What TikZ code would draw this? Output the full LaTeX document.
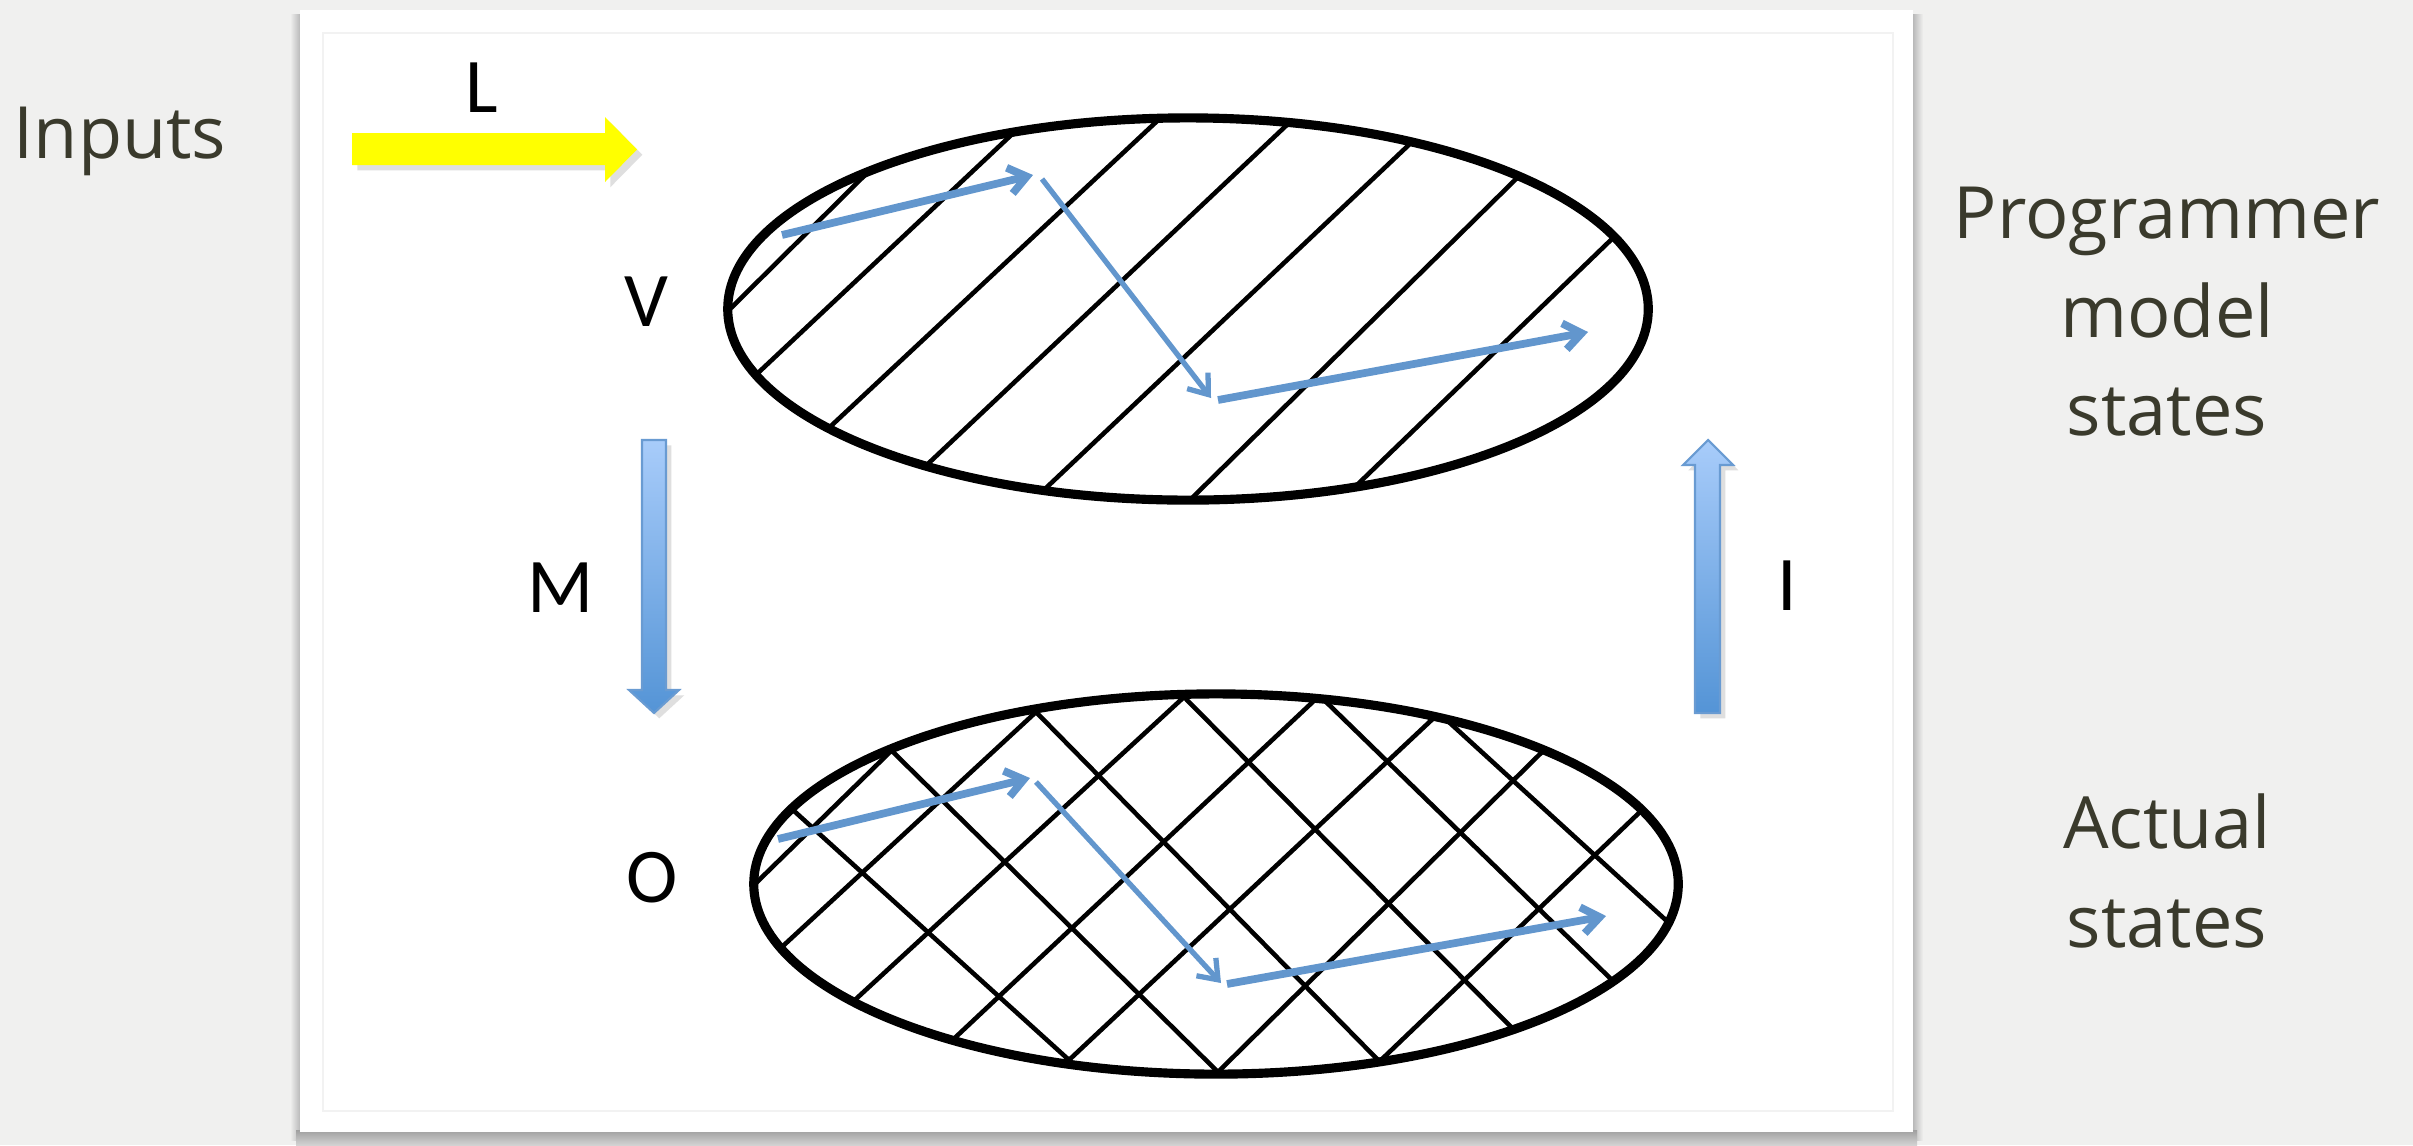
\documentclass[tikz,border=0pt]{standalone}
\usepackage{fontspec}
\setmainfont{Open Sans}
\newfontfamily\sidefont{Open Sans}
\newfontfamily\calib{Carlito}
\usetikzlibrary{arrows.meta,calc,shadows,shapes.geometric}
\definecolor{bg}{RGB}{240,240,239}
\definecolor{txt}{RGB}{58,58,44}
\definecolor{pathblue}{RGB}{98,150,205}
\definecolor{blueTop}{RGB}{168,204,250}
\definecolor{blueBot}{RGB}{84,148,214}
\definecolor{blueEdge}{RGB}{105,155,210}
\definecolor{yel}{RGB}{255,255,0}
\tikzset{
  lbl/.style={font=\calib\fontsize{22}{26}\selectfont, text=black, inner sep=0pt, anchor=base},
  side/.style={font=\sidefont\fontsize{20.5}{25}\selectfont, text=txt, inner sep=0pt, anchor=base},
  trail/.style={draw=pathblue, line width=2.2pt, -{Straight Barb[length=5pt,width=7.5pt]}},
  trailthin/.style={trail, line width=1.5pt},
  hatch/.style={line width=1.3pt, black},
  stateset/.style={draw, line width=2.6pt, ellipse, minimum width=9.2cm, minimum height=3.82cm, inner sep=0pt},
  bigarrow/.style={top color=blueTop, bottom color=blueBot, draw=blueEdge, line width=0.6pt,
     drop shadow={opacity=0.25, shadow xshift=1.5pt, shadow yshift=-1.5pt}}
}
\begin{document}
\begin{tikzpicture}[x=0.01cm,y=-0.01cm]
\path[use as bounding box, fill=bg] (0,0) rectangle (2413,1145);
% card shadow and card
\shade[left color=bg, right color=gray!55] (290,14) rectangle (300,1140);
\shade[left color=gray!55, right color=bg] (1913,14) rectangle (1923,1140);
\shade[top color=gray!75, bottom color=gray!35] (296,1130) rectangle (1917,1145);
\fill[white] (300,10) rectangle (1913,1132);
\draw[gray!10, line width=0.5pt] (323,33) rectangle (1893,1111);

% yellow input arrow
\fill[yel, drop shadow={opacity=0.25, shadow xshift=1.5pt, shadow yshift=-1.5pt}]
  (352,133) -- (605,133) -- (605,117) -- (637,149.5) -- (605,182) -- (605,165) -- (352,165) -- cycle;

% top ellipse hatching
\begin{scope}
\clip (1188,309) ellipse [x radius=4.6cm, y radius=1.91cm];
\foreach \ax/\ay/\bx/\by in {732/307/862/178, 759/372/1008/138, 832/425/1155/123,
  932/460/1290/122, 1047/487/1414/140, 1193/497/1517/178, 1359/483/1616/235}
  \draw[hatch] ($(\ax,\ay)!-0.15!(\bx,\by)$) -- ($(\bx,\by)!-0.15!(\ax,\ay)$);
\end{scope}
\node[stateset] (Vset) at (1188,309) {};

% bottom ellipse cross hatching
\begin{scope}
\clip (1216,884) ellipse [x radius=4.62cm, y radius=1.90cm];
\foreach \ax/\ay/\bx/\by in {757/882/890/752, 784/945/1036/712, 857/998/1184/697,
  960/1033/1318/697, 1069/1060/1439/713, 1218/1072/1542/752, 1381/1060/1642/810,
  793/810/1069/1060, 893/752/1218/1072, 1036/712/1378/1060, 1184/697/1512/1028,
  1321/697/1612/980, 1439/713/1669/923}
  \draw[hatch] ($(\ax,\ay)!-0.15!(\bx,\by)$) -- ($(\bx,\by)!-0.15!(\ax,\ay)$);
\end{scope}
\node[stateset, minimum width=9.24cm, minimum height=3.8cm] (Oset) at (1216,884) {};

% trails
\coordinate (t1) at (782,235); \coordinate (t2) at (1033,175);
\coordinate (t3) at (1042,179); \coordinate (t4) at (1211,398);
\coordinate (t5) at (1218,400); \coordinate (t6) at (1588,332);
\draw[trail] (t1) -- (t2);
\draw[trailthin] (t3) -- (t4);
\draw[trail] (t5) -- (t6);
\coordinate (b1) at (778,839); \coordinate (b2) at (1030,778);
\coordinate (b3) at (1036,782); \coordinate (b4) at (1221,983);
\coordinate (b5) at (1227,984); \coordinate (b6) at (1606,916);
\draw[trail] (b1) -- (b2);
\draw[trailthin] (b3) -- (b4);
\draw[trail] (b5) -- (b6);

% big blue arrows
\shade[bigarrow] (642,440) -- (666,440) -- (666,690) -- (679,690) -- (654,713) -- (629,690) -- (642,690) -- cycle;
\shade[bigarrow] (1695,713) -- (1720,713) -- (1720,465) -- (1733,465) -- (1708,440) -- (1683,465) -- (1695,465) -- cycle;

% labels
\node[lbl] (Lb) at (482,112) {L};
\node[lbl] (Vb) at (646,326) {V};
\node[lbl] (Mb) at (561,612) {M};
\node[lbl] (Ob) at (652,902) {O};
\node[lbl] (Ib) at (1787,610) {I};

% side texts
\node[side] (inp) at (120,158) {Inputs};
\node[side] (pm1) at (2167,238) {Programmer};
\node[side] (pm2) at (2167,337) {model};
\node[side] (pm3) at (2167,435) {states};
\node[side] (as1) at (2167,848) {Actual};
\node[side] (as2) at (2167,947) {states};
\end{tikzpicture}
\end{document}
